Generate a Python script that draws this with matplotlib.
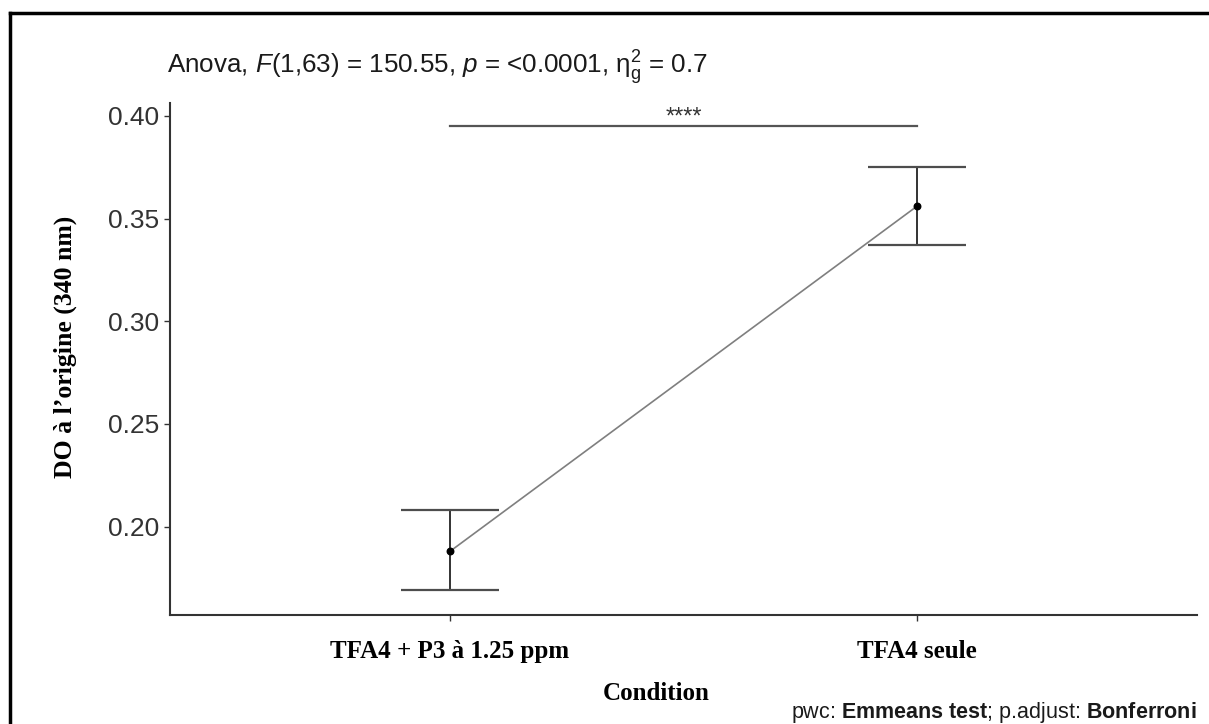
import numpy as np
import matplotlib.pyplot as plt
from matplotlib.lines import Line2D

conditions = ['TFA4 + P3 à 1.25 ppm', 'TFA4 seule']
means = [0.188, 0.356]
ci_low = [0.169, 0.337]
ci_high = [0.208, 0.375]
yticks = [0.20, 0.25, 0.30, 0.35, 0.40]
sig_label = '****'
sig_y = 0.395

plt.rcParams['font.family'] = ['Liberation Sans', 'DejaVu Sans']
plt.rcParams['mathtext.fontset'] = 'custom'
plt.rcParams['mathtext.rm'] = 'Liberation Sans'
plt.rcParams['mathtext.it'] = 'Liberation Sans:italic'
plt.rcParams['mathtext.bf'] = 'Liberation Sans:bold'

fig = plt.figure(figsize=(12.09, 7.24), dpi=100)
ax = fig.add_axes([0.1406, 0.1506, 0.8494, 0.7071])

x = np.arange(1, len(conditions) + 1)
means = np.array(means)
err = [means - np.array(ci_low), np.array(ci_high) - means]

ax.plot(x, means, color='#7f7f7f', lw=1.2, zorder=2)
ax.errorbar(x, means, yerr=err, fmt='none', ecolor='#333333', elinewidth=1.4,
            capsize=0, zorder=3)
for xi, lo, hi in zip(x, ci_low, ci_high):
    ax.hlines([lo, hi], xi - 0.105, xi + 0.105, color='#4d4d4d', lw=1.6, zorder=3)
ax.scatter(x, means, s=22, color='black', zorder=4)

# significance bracket
ax.plot([x[0], x[1]], [sig_y, sig_y], color='#555555', lw=1.6)
ax.text(x.mean(), sig_y - 0.0012, sig_label, ha='center', va='bottom',
        fontsize=17, color='#333333')

ax.set_xlim(0.4, 2.6)
ax.set_ylim(0.157, 0.4063)
ax.set_xticks(x)
ax.set_xticklabels(conditions, family='Liberation Serif', fontweight='bold',
                   fontsize=18, color='black')
ax.set_yticks(yticks)
ax.set_yticklabels([f'{v:.2f}' for v in yticks], fontsize=19, color='#333333')
ax.tick_params(axis='both', length=4, width=1, color='#333333')
ax.tick_params(axis='y', pad=4)
ax.tick_params(axis='x', pad=14)

for side in ['top', 'right']:
    ax.spines[side].set_visible(False)
for side in ['left', 'bottom']:
    ax.spines[side].set_color('#333333')
    ax.spines[side].set_linewidth(1.5)

ax.set_xlabel('Condition', family='Liberation Serif', fontweight='bold',
              fontsize=18, labelpad=14)
ax.set_ylabel("DO à l’origine (340 nm)", family='Liberation Serif',
              fontweight='bold', fontsize=18.5, labelpad=22)
ax.xaxis.label.set_x(0.473)
ax.yaxis.label.set_y(0.523)

fig.text(0.138, 0.907,
         r'Anova, $\mathit{F}$(1,63) = 150.55, $\mathit{p}$ = <0.0001, '
         r'$\mathrm{\eta}_{\mathrm{g}}^{\mathrm{2}}$ = 0.7',
         fontsize=18.7, ha='left', va='center', color='#1a1a1a')
fig.text(0.990, 0.016,
         r'pwc: $\mathbf{Emmeans\ test}$; p.adjust: $\mathbf{Bonferroni}$',
         fontsize=15.5, ha='right', va='center', color='#1a1a1a')

# outer frame (top and left edges)
fig.add_artist(Line2D([10 / 1209, 10 / 1209], [0, 1 - 13 / 724],
                      transform=fig.transFigure, color='black', lw=2.5))
fig.add_artist(Line2D([10 / 1209, 1], [1 - 13 / 724, 1 - 13 / 724],
                      transform=fig.transFigure, color='black', lw=2.5))

fig.savefig('out.png', dpi=100)
